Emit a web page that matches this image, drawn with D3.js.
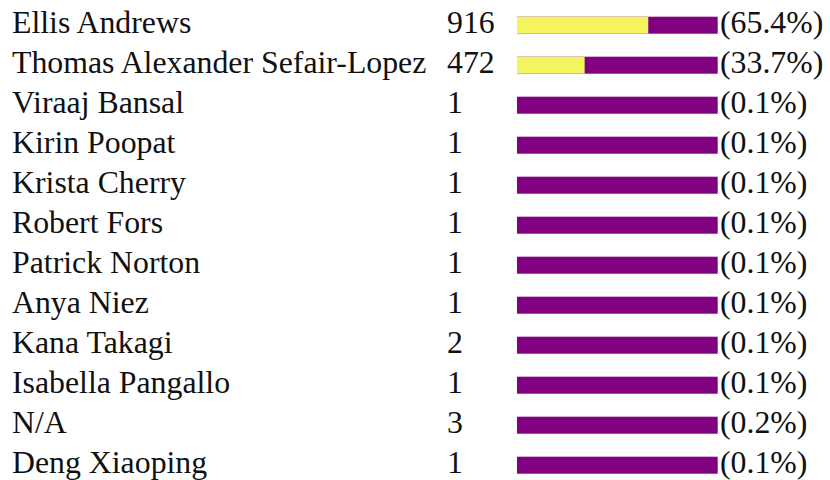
<!DOCTYPE html>
<html>
<head>
<meta charset="utf-8">
<script src="https://cdn.jsdelivr.net/npm/d3@7"></script>
<style>
  body { margin: 0; background: #fff; }
  svg text { font-family: "Liberation Serif", "Times New Roman", Times, serif; fill: #111; }
</style>
</head>
<body>
<figure id="chart" style="margin:0"></figure>
<script>
const names = ["Ellis Andrews", "Thomas Alexander Sefair-Lopez", "Viraaj Bansal", "Kirin Poopat",
  "Krista Cherry", "Robert Fors", "Patrick Norton", "Anya Niez", "Kana Takagi",
  "Isabella Pangallo", "N/A", "Deng Xiaoping"];
const counts = [916, 472, 1, 1, 1, 1, 1, 1, 2, 1, 3, 1];
const percents = [65.4, 33.7, 0.1, 0.1, 0.1, 0.1, 0.1, 0.1, 0.1, 0.1, 0.2, 0.1];

const width = 830, height = 480;
const yellow = "#f4f45e", purple = "#800080";
const barH = 17;

const svg = d3.select("#chart").append("svg")
  .attr("width", width)
  .attr("height", height);

// row index -> top of bar, one row every 40px
const y = d3.scaleLinear()
  .domain([0, names.length - 1])
  .range([16.7, 16.7 + 40 * (names.length - 1)]);

const x = d3.scaleLinear().domain([0, 100]).range([517, 717.7]);

const rows = svg.selectAll("g.row")
  .data(names.map((n, i) => ({ name: n, count: counts[i], pct: percents[i], i })))
  .join("g")
  .attr("class", "row");

// remainder (purple) drawn full width, share (yellow) on top
rows.append("rect")
  .attr("x", x(0))
  .attr("y", d => y(d.i))
  .attr("width", x(100) - x(0))
  .attr("height", barH)
  .attr("fill", purple);

rows.append("rect")
  .attr("x", x(0))
  .attr("y", d => y(d.i))
  .attr("width", d => d.pct >= 1 ? x(d.pct) - x(0) : 0)
  .attr("height", barH)
  .attr("fill", yellow);

const base = d => y(d.i) + barH - 0.3;

rows.append("text")
  .attr("x", 12)
  .attr("y", base)
  .style("font-size", "31.8px")
  .text(d => d.name);

rows.append("text")
  .attr("x", 447)
  .attr("y", base)
  .style("font-size", "31.8px")
  .text(d => d.count);

rows.append("text")
  .attr("x", 720)
  .attr("y", base)
  .style("font-size", "31.8px")
  .text(d => `(${d.pct.toFixed(1)}%)`);
</script>
</body>
</html>
